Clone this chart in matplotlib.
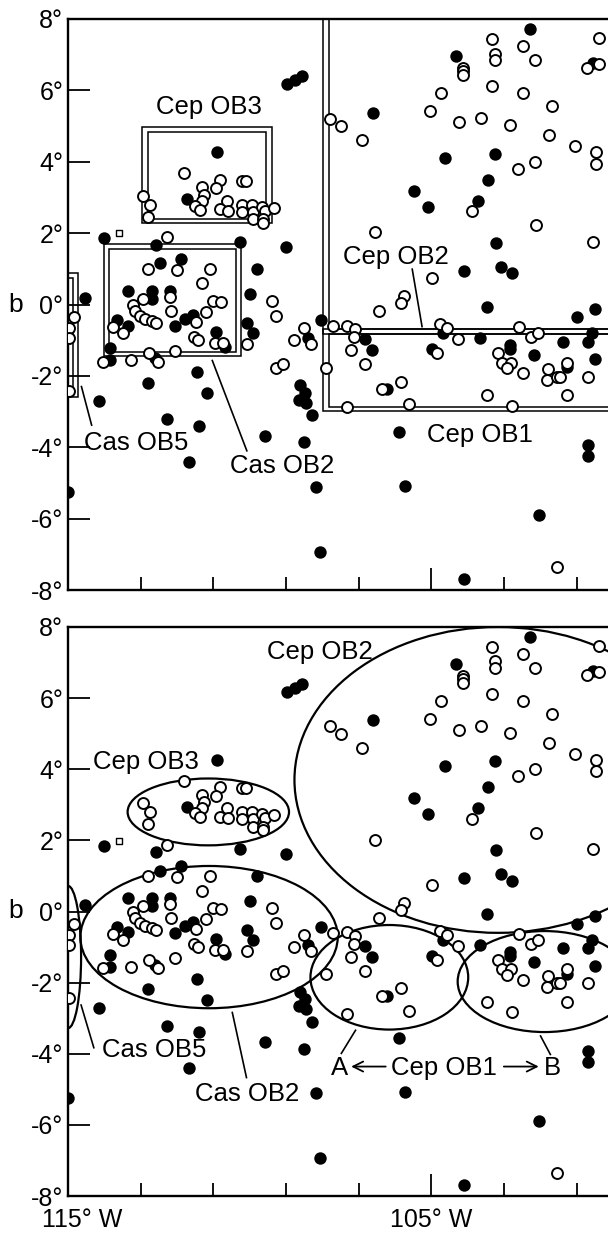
import matplotlib
matplotlib.use("Agg")
import matplotlib.pyplot as plt
from matplotlib.patches import Rectangle, Ellipse
from matplotlib.transforms import ScaledTranslation
import numpy as np

plt.rcParams["font.family"] = ["Liberation Sans", "DejaVu Sans"]
plt.rcParams["font.size"] = 18

# galactic longitude l (deg) and latitude b (deg) of the stars
filled_l = [102.28, 104.32, 100.55, 108.98, 108.76, 108.55, 106.60, 104.62, 103.25,
            103.44, 105.48, 103.72, 105.10, 103.22, 103.10, 102.79, 104.11, 103.46,
            110.91, 111.72, 114.00, 112.59, 110.28, 109.01,
            112.47, 111.88, 109.81, 113.35, 112.68, 112.68, 112.20, 109.99, 111.78,
            111.57, 112.06, 110.92, 110.67, 113.66, 113.34, 113.84, 113.84, 112.61,
            110.08, 109.90, 114.53,
            111.46, 112.79, 111.18, 114.16, 112.28, 111.39, 111.67, 114.99, 109.59,
            108.50, 108.19, 108.07, 108.62, 108.49, 108.64, 108.44, 108.30, 108.03,
            108.40,
            106.83, 106.64, 106.23, 105.90, 105.72, 104.67, 104.99, 103.66, 102.84,
            102.84, 102.18, 101.39, 101.26, 101.00, 100.50, 100.59, 100.70, 100.50,
            100.69, 100.69, 102.04, 104.11]
filled_b = [7.73, 6.95, 6.76, 6.17, 6.29, 6.40, 5.38, 4.10, 4.23,
            3.50, 3.18, 2.90, 2.73, 1.72, 1.05, 0.87, 0.93, -0.06,
            4.27, 2.95, 1.85, 1.66, 1.75, 1.61,
            1.15, 1.28, 1.00, 0.37, 0.39, 0.15, 0.39, 0.29, -0.41,
            -0.29, -0.60, -0.78, -1.19, -0.43, -0.59, -1.23, -1.55, -1.51,
            -0.52, -0.81, 0.17,
            -1.90, -2.19, -2.48, -2.70, -3.22, -3.40, -4.40, -5.25, -3.68,
            -3.86, -5.10, -6.93, -2.25, -2.47, -2.67, -2.75, -3.10, -0.43,
            -0.94,
            -0.96, -1.27, -2.37, -3.56, -5.08, -0.81, -1.25, -0.93, -1.13,
            -1.25, -1.41, -1.04, -1.75, -0.34, -0.13, -0.81, -1.04, -1.52,
            -3.93, -4.24, -5.90, -7.70]

open_l = [103.34, 102.48, 102.16, 100.38, 103.26, 103.26, 104.14, 104.14, 104.14,
          100.72, 100.38, 103.34, 102.48, 104.73, 101.68, 105.03, 107.78, 107.48,
          104.25, 103.63, 102.85, 101.77, 106.90, 101.06, 100.47, 100.47, 102.14,
          102.62, 103.89, 102.13, 106.56, 100.56, 104.99, 105.75, 105.85, 106.45,
          # Cep OB3
          111.82, 110.82, 110.22, 110.11, 111.30, 110.94, 111.25, 111.31, 111.51,
          111.37, 112.93, 112.74, 112.81, 110.62, 110.82, 110.59, 110.22, 110.22,
          109.95, 109.92, 109.67, 109.58, 109.32, 109.90, 109.63, 109.63,
          112.29,
          # Cas OB2
          112.79, 111.99, 111.10, 111.30, 112.94, 113.21, 113.16, 113.03, 112.88,
          112.70, 112.58, 112.19, 112.17, 111.02, 110.80, 111.20, 111.48, 111.53,
          111.42, 110.96, 110.74, 113.75, 113.48, 114.03, 113.27, 112.76, 112.52,
          112.06, 110.08, 109.40, 109.29, 108.78, 108.50, 108.31, 109.28, 109.08,
          # Cas OB5
          114.84, 114.97, 114.97, 114.97,
          # Cep OB1
          107.72, 107.33, 107.11, 107.14, 107.22, 106.82, 107.90, 107.32, 106.35,
          105.83, 105.63, 104.77, 104.56, 104.27, 104.84, 102.60, 102.26, 102.06,
          103.17, 103.05, 102.81, 102.93, 102.47, 101.80, 101.83, 101.56, 101.47,
          101.28, 100.69, 103.46, 101.27, 102.79, 101.55]
open_b = [7.44, 7.24, 6.85, 7.47, 7.03, 6.86, 6.63, 6.53, 6.43,
          6.64, 6.74, 6.12, 5.92, 5.93, 5.55, 5.42, 5.21, 4.99,
          5.10, 5.22, 5.02, 4.74, 4.60, 4.43, 4.26, 3.95, 4.00,
          3.81, 2.61, 2.22, 2.02, 1.75, 0.74, 0.25, 0.03, -0.19,
          3.68, 3.49, 3.47, 3.47, 3.28, 3.26, 3.07, 2.91, 2.76,
          2.65, 3.04, 2.79, 2.46, 2.90, 2.67, 2.62, 2.79, 2.60,
          2.79, 2.60, 2.74, 2.62, 2.70, 2.39, 2.39, 2.28,
          1.88,
          1.00, 0.97, 0.99, 0.59, 0.16, 0.00, -0.18, -0.31, -0.40,
          -0.47, -0.51, 0.20, -0.18, 0.09, 0.07, -0.22, -0.49, -0.90,
          -0.99, -1.09, -1.09, -0.62, -0.81, -1.60, -1.56, -1.37, -1.60,
          -1.30, -1.10, 0.10, -0.31, -0.99, -0.66, -1.10, -1.77, -1.67,
          -0.35, -0.65, -0.94, -2.43,
          -0.60, -0.59, -0.70, -0.90, -1.28, -1.68, -1.77, -2.88, -2.37,
          -2.16, -2.79, -0.56, -0.66, -0.97, -1.37, -0.63, -0.92, -0.81,
          -1.35, -1.63, -1.63, -1.79, -1.93, -1.82, -2.11, -2.02, -2.02,
          -1.63, -2.02, -2.54, -2.54, -2.84, -7.36]

square_l = [113.60]
square_b = [1.99]

# top panel: double-line boxes, (l_left, l_right, b_bottom, b_top) outer and inner
boxes = [
    [(112.96, 109.39, 2.28, 4.98), (112.81, 109.54, 2.40, 4.82)],      # Cep OB3
    [(114.01, 110.23, -1.44, 1.70), (113.87, 110.37, -1.32, 1.56)],    # Cas OB2
    [(115.30, 114.72, -2.60, 0.875), (115.15, 114.86, -2.47, 0.735)],  # Cas OB5
    [(107.98, 95.0, -0.834, 10.0), (107.81, 95.0, -0.694, 10.0)],      # Cep OB2
    [(107.98, 95.0, -2.983, -0.694), (107.81, 95.0, -2.863, -0.834)],  # Cep OB1
]

# bottom panel: ellipses (centre l, centre b, width, height)
ellipses = [
    (103.17, 3.70, 11.2, 8.6),    # Cep OB2
    (111.14, 2.80, 4.44, 1.88),   # Cep OB3
    (111.12, -0.72, 7.08, 4.0),   # Cas OB2
    (115.00, -1.28, 0.72, 4.0),   # Cas OB5
    (106.16, -1.85, 4.34, 2.94),  # Cep OB1 A
    (101.89, -1.97, 4.78, 2.84),  # Cep OB1 B
]

# labels: (text, l, b baseline) and leader lines ((l0, b0), (l1, b1))
top_labels = [("Cep OB3", 111.13, 5.34), ("Cep OB2", 105.97, 1.13),
              ("Cep OB1", 103.67, -3.86), ("Cas OB5", 113.13, -4.08),
              ("Cas OB2", 109.10, -4.72)]
top_leaders = [((105.53, 0.99), (105.26, -0.62)),
               ((114.63, -2.30), (114.35, -3.38)),
               ((111.03, -1.57), (110.08, -4.10))]
bot_labels = [("Cep OB2", 108.07, 7.11), ("Cep OB3", 112.86, 4.02),
              ("Cas OB5", 112.63, -4.08), ("Cas OB2", 110.07, -5.33),
              ("A", 107.52, -4.60), ("Cep OB1", 104.66, -4.60), ("B", 101.68, -4.60)]
bot_leaders = [((114.64, -2.63), (114.29, -3.83)),
               ((110.48, -2.84), (110.09, -4.67)),
               ((107.09, -3.34), (107.48, -3.99)),
               ((102.00, -3.50), (101.73, -4.02))]
bot_arrows = [((106.26, -4.36), (107.21, -4.36)), ((103.01, -4.36), (102.05, -4.36))]

W, H = 608, 1238
fig = plt.figure(figsize=(W / 100, H / 100), dpi=100)
ax_top = fig.add_axes([68 / W, 1 - 590 / H, 540 / W, 571 / H])
ax_bot = fig.add_axes([68 / W, 1 - 1196 / H, 540 / W, 569 / H])

for ax in (ax_top, ax_bot):
    ax.set_xlim(115, 115 - 540 / 36.35)
    ax.set_ylim(-8, 8)
    ax.spines["right"].set_visible(False)
    for s in ("left", "bottom", "top"):
        ax.spines[s].set_linewidth(1.7)
    yt = np.arange(-8, 9, 2)
    ax.set_yticks(yt)
    ax.set_yticklabels([f"{v}°" for v in yt])
    ax.set_xticks([115, 105])
    ax.set_xticks(np.arange(113, 100, -2), minor=True)
    ax.tick_params(axis="y", direction="in", length=16, width=1.3, pad=3.5, labelsize=18)
    ax.tick_params(axis="x", which="major", direction="in", length=16, width=1.3,
                   pad=8.5, labelsize=18)
    ax.tick_params(axis="x", which="minor", direction="in", length=9.5, width=1.3)
    ax.set_ylabel("b", rotation=0, fontsize=19, va="center")
    ax.yaxis.set_label_coords(-0.097, 0.5)

    ax.scatter(filled_l, filled_b, s=80, c="black", linewidths=0, zorder=3)
    ax.scatter(open_l, open_b, s=62, facecolors="white", edgecolors="black",
               linewidths=1.4, zorder=4)
    ax.scatter(square_l, square_b, s=14, marker="s", facecolors="white",
               edgecolors="black", linewidths=1.0, zorder=4)

ax_top.set_xticklabels(["", ""])
ax_bot.set_xticklabels(["115° W", "105° W"])
first = ax_bot.get_xticklabels()[0]
first.set_ha("left")
first.set_transform(first.get_transform() + ScaledTranslation(-0.263, 0, fig.dpi_scale_trans))

for outer, inner in boxes:
    for l0, l1, b0, b1 in (outer, inner):
        ax_top.add_patch(Rectangle((l1, b0), l0 - l1, b1 - b0, fill=False,
                                   edgecolor="black", linewidth=1.1, zorder=2))

for l, b, w, h in ellipses:
    ax_bot.add_patch(Ellipse((l, b), w, h, fill=False, edgecolor="black",
                             linewidth=1.6, zorder=2))

for ax, labels, leaders in ((ax_top, top_labels, top_leaders), (ax_bot, bot_labels, bot_leaders)):
    for txt, l, b in labels:
        ax.text(l, b, txt, ha="center", va="baseline", fontsize=18.5, zorder=5)
    for (l0, b0), (l1, b1) in leaders:
        ax.plot([l0, l1], [b0, b1], color="black", lw=1.2, zorder=2)

for (l0, b0), (l1, b1) in bot_arrows:
    ax_bot.annotate("", xy=(l1, b1), xytext=(l0, b0),
                    arrowprops=dict(arrowstyle="->", lw=1.3, color="black",
                                    mutation_scale=18, shrinkA=0, shrinkB=0))

fig.savefig("out.png", dpi=100)
